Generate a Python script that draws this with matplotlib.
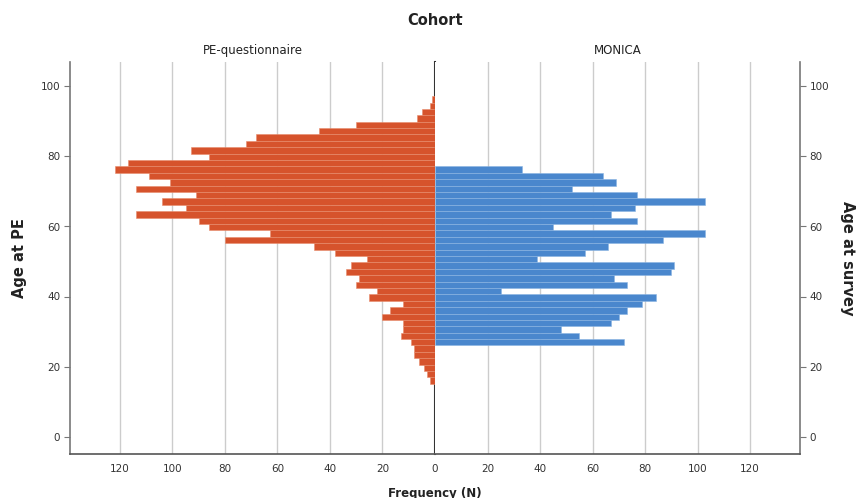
import numpy as np
import matplotlib.pyplot as plt

# histogram bins shared by both cohorts (age, years)
first_edge = 15.04
bin_width = 1.827

# PE-questionnaire counts, youngest bin first
pe_counts = [2, 3, 4, 6, 8, 8, 9, 13, 12, 12, 20, 17, 12, 25, 22, 30, 29, 34, 32, 26,
             38, 46, 80, 63, 86, 90, 114, 95, 104, 91, 114, 101, 109, 122, 117, 86,
             93, 72, 68, 44, 30, 7, 5, 2, 1]
# MONICA counts start at bin 6
monica_first_bin = 6
monica_counts = [72, 55, 48, 67, 70, 73, 79, 84, 25, 73, 68, 90, 91, 39, 57, 66, 87,
                 103, 45, 77, 67, 76, 103, 77, 52, 69, 64, 33]

x_ticks = [0, 20, 40, 60, 80, 100, 120]
y_ticks = [0, 20, 40, 60, 80, 100]

red = "#d6532c"
blue = "#4a87cd"
grid_c = "#cccccc"
txt_c = "#333333"

pe_mid = first_edge + bin_width * (np.arange(len(pe_counts)) + 0.5)
mo_mid = first_edge + bin_width * (np.arange(len(monica_counts)) + monica_first_bin + 0.5)

W, H = 860, 498
fig = plt.figure(figsize=(W / 100, H / 100), dpi=100)
left, right, top, bottom = 70, 800, 62, 454
mid = 435
axL = fig.add_axes([left / W, 1 - bottom / H, (mid - left) / W, (bottom - top) / H])
axR = fig.add_axes([mid / W, 1 - bottom / H, (right - mid) / W, (bottom - top) / H])

xmax = 139
ylim = (-5, 107)

axL.barh(pe_mid, pe_counts, height=bin_width, color=red, edgecolor="#e88c6c",
         linewidth=0.4, zorder=3)
axR.barh(mo_mid, monica_counts, height=bin_width, color=blue, edgecolor="#8ab4e2",
         linewidth=0.4, zorder=3)

axL.set_xlim(xmax, 0)
axR.set_xlim(0, xmax)
for ax in (axL, axR):
    ax.set_ylim(*ylim)
    ax.set_facecolor("white")
    for t in x_ticks[1:]:
        ax.axvline(t, color=grid_c, lw=1, zorder=1)
    ax.spines["top"].set_visible(False)
    ax.spines["bottom"].set_color("#555555")
    ax.spines["bottom"].set_linewidth(1.2)
    ax.tick_params(axis="x", length=0, pad=7, labelsize=7.5, labelcolor=txt_c)
    ax.set_yticks(y_ticks)

axL.set_xticks(x_ticks)
axL.set_xticklabels([str(t) for t in x_ticks])
axR.set_xticks(x_ticks[1:])
axR.set_xticklabels([str(t) for t in x_ticks[1:]])

# left panel: age axis on left, dark zero line on right
axL.spines["right"].set_color("#333333")
axL.spines["right"].set_linewidth(1.5)
axL.spines["left"].set_color("#777777")
axL.spines["left"].set_linewidth(1.2)
axL.tick_params(axis="y", length=4, color="#777777", labelsize=7.5, labelcolor=txt_c, pad=3)

axR.spines["left"].set_visible(False)
axR.spines["right"].set_color("#777777")
axR.spines["right"].set_linewidth(1.2)
axR.yaxis.tick_right()
axR.tick_params(axis="y", length=4, color="#777777", labelsize=7.5, labelcolor=txt_c, pad=3)

axL.set_title("PE-questionnaire", fontsize=8.5, color="#222222", pad=6)
axR.set_title("MONICA", fontsize=8.5, color="#222222", pad=6)

fig.text(mid / W, 1 - 20 / H, "Cohort", ha="center", va="center",
         fontsize=10.5, fontweight="bold", color="#222222")
fig.text(20 / W, 1 - 258 / H, "Age at PE", ha="center", va="center", rotation=90,
         fontsize=10.5, fontweight="bold", color="#222222")
fig.text(848 / W, 1 - 258 / H, "Age at survey", ha="center", va="center", rotation=-90,
         fontsize=10.5, fontweight="bold", color="#222222")
fig.text(mid / W, 1 - 493 / H, "Frequency (N)", ha="center", va="center",
         fontsize=8.5, fontweight="bold", color="#222222")

fig.savefig("out.png", dpi=100)
